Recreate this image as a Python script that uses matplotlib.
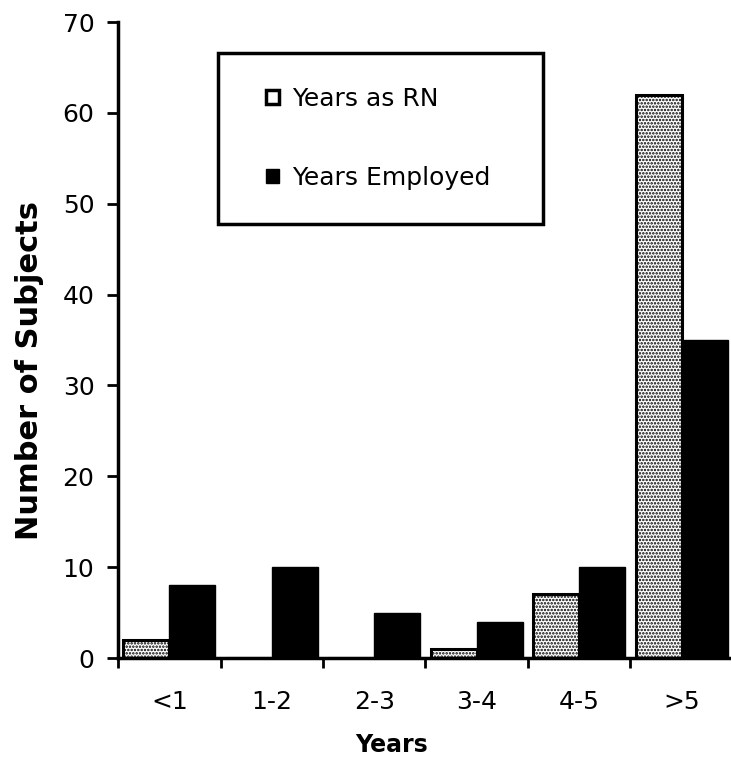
import numpy as np
import matplotlib
matplotlib.use('Agg')
import matplotlib.pyplot as plt
from matplotlib.patches import Patch, Rectangle
from matplotlib.legend_handler import HandlerPatch

# data
categories = ['<1', '1-2', '2-3', '3-4', '4-5', '>5']
years_as_rn = [2, 0, 0, 1, 7, 62]
years_employed = [8, 10, 5, 4, 10, 35]
y_ticks = [0, 10, 20, 30, 40, 50, 60, 70]

W, H = 731, 773
fig = plt.figure(figsize=(W / 100, H / 100), dpi=100)

# axes box in pixels: x 118..733, y(0)=658, y(70)=22
x0, x1 = 118, 733
y_zero, y_top = 658, 22
ax = fig.add_axes([x0 / W, (H - y_zero) / H, (x1 - x0) / W, (y_zero - y_top) / H])

plt.rcParams['hatch.linewidth'] = 1.2
x = np.arange(len(categories))
bw = 0.45
ax.bar(x - bw / 2, years_as_rn, bw, facecolor='white', edgecolor='black',
       hatch='.....', linewidth=2.2, label='Years as RN')
ax.bar(x + bw / 2, years_employed, bw, facecolor='black', edgecolor='black',
       linewidth=1, label='Years Employed')

ax.set_xlim(-0.5, len(categories) - 0.5)
ax.set_ylim(0, 70)
ax.set_yticks(y_ticks)
ax.tick_params(axis='y', direction='out', length=8, width=2, pad=9, labelsize=18)

# ticks at category boundaries, labels at centres
ax.set_xticks(np.arange(len(categories) + 1) - 0.5)
ax.set_xticklabels([])
ax.set_xticks(x, minor=True)
ax.set_xticklabels(categories, minor=True, fontsize=18)
ax.tick_params(axis='x', which='major', direction='out', length=7, width=2)
ax.tick_params(axis='x', which='minor', length=0, pad=23)

for s in ['top', 'right']:
    ax.spines[s].set_visible(False)
for s in ['left', 'bottom']:
    ax.spines[s].set_linewidth(2.5)

fig.text(30 / W, 1 - 370 / H, 'Number of Subjects', rotation=90, ha='center',
         va='center', fontsize=22, fontweight='bold')
fig.text(392 / W, 1 - 745 / H, 'Years', ha='center', va='center',
         fontsize=17, fontweight='bold')


def small_square(legend, orig_handle, xdescent, ydescent, width, height, fontsize):
    s = 0.55 * fontsize
    return Rectangle((-xdescent + width - s, -ydescent + (height - s) / 2), s, s)


handles = [Patch(facecolor='white', edgecolor='black', linewidth=2.5),
           Patch(facecolor='black', edgecolor='black')]
leg = fig.legend(handles, ['Years as RN', 'Years Employed'],
                 loc='upper left',
                 bbox_to_anchor=(218 / W, 1 - 53 / H - 0.01, (543 - 218) / W, 0.01),
                 mode='expand', fontsize=18, frameon=True, fancybox=False,
                 edgecolor='black', framealpha=1, borderpad=1.35,
                 labelspacing=2.2, handlelength=1.1, handleheight=0.6,
                 handletextpad=0.5, borderaxespad=0,
                 handler_map={Patch: HandlerPatch(patch_func=small_square)})
leg.get_frame().set_linewidth(2.5)

fig.savefig('out.png', dpi=100)
